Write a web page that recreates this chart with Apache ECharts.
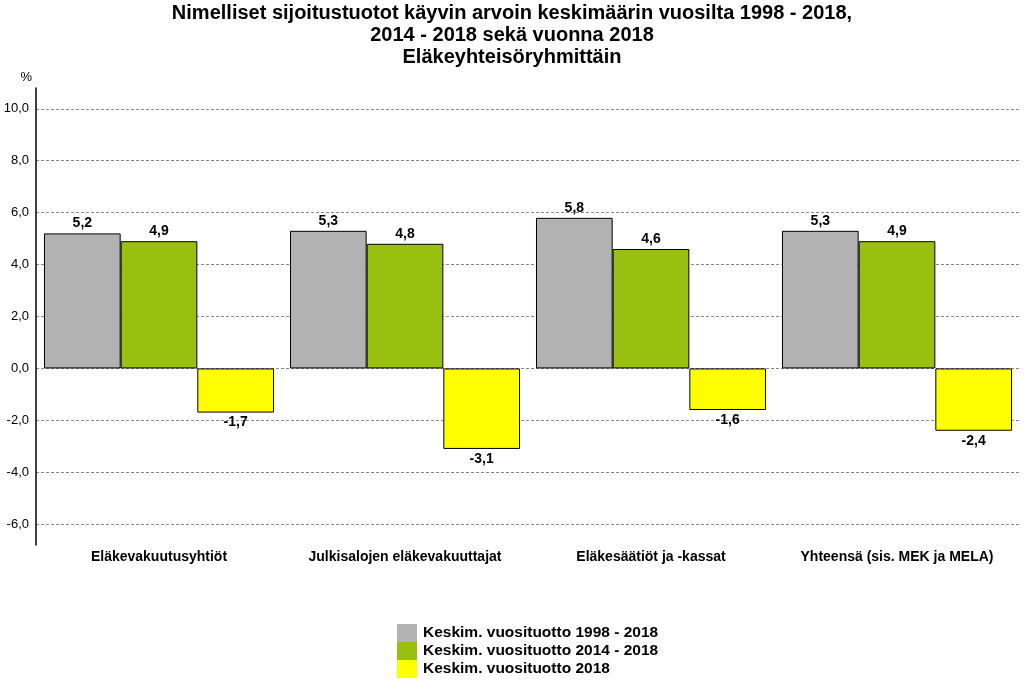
<!DOCTYPE html>
<html><head><meta charset="utf-8">
<script src="https://cdn.jsdelivr.net/npm/echarts@6/dist/echarts.min.js"></script>
<style>html,body{margin:0;padding:0;background:#fff}#c{width:1024px;height:684px}</style>
</head><body><div id="c"></div>
<script>
const categories = ['Eläkevakuutusyhtiöt', 'Julkisalojen eläkevakuuttajat', 'Eläkesäätiöt ja -kassat', 'Yhteensä (sis. MEK ja MELA)'];
const seriesNames = ['Keskim. vuosituotto 1998 - 2018', 'Keskim. vuosituotto 2014 - 2018', 'Keskim. vuosituotto 2018'];
const avg1998_2018 = [5.2, 5.3, 5.8, 5.3];
const avg2014_2018 = [4.9, 4.8, 4.6, 4.9];
const year2018 = [-1.7, -3.1, -1.6, -2.4];
const yTicks = [-6, -4, -2, 0, 2, 4, 6, 8, 10];
const colors = ['#b2b2b2', '#99bf0f', '#ffff00'];
const FONT = 'Arial, "Liberation Sans", sans-serif';

function mkSeries(name, vals, color) {
  return {
    name: name, type: 'bar', barGap: '0%', barCategoryGap: '6.5%',
    itemStyle: { color: color, borderColor: '#000', borderWidth: 1 },
    data: vals.map(v => ({ value: v, label: { position: v < 0 ? 'bottom' : 'top' } })),
    label: { show: true, fontFamily: FONT, fontWeight: 'bold', fontSize: 14, color: '#000', distance: 3,
      formatter: p => p.value.toFixed(1).replace('.', ',') }
  };
}
const chart = echarts.init(document.getElementById('c'), null, { renderer: 'canvas' });
chart.setOption({
  animation: false,
  color: colors,
  title: {
    text: 'Nimelliset sijoitustuotot käyvin arvoin keskimäärin vuosilta 1998 - 2018,\n2014 - 2018 sekä vuonna 2018\nEläkeyhteisöryhmittäin',
    left: 'center', top: 0, padding: [2, 5, 5, 5],
    textStyle: { fontFamily: FONT, fontWeight: 'bold', fontSize: 20, lineHeight: 22, color: '#000' }
  },
  legend: {
    orient: 'vertical', left: 392, top: 619, height: 80, itemWidth: 20, itemHeight: 18, itemGap: 0,
    icon: 'rect', itemStyle: { borderWidth: 0 },
    textStyle: { fontFamily: FONT, fontWeight: 'bold', fontSize: 15.5, lineHeight: 18, color: '#000', padding: [0, 0, 0, 1] },
    data: seriesNames
  },
  grid: { left: 36, right: 4, top: 88, bottom: 139, containLabel: false },
  xAxis: {
    type: 'category', data: categories, position: 'bottom',
    axisLine: { show: false, onZero: false }, axisTick: { show: false },
    axisLabel: { interval: 0, fontFamily: FONT, fontWeight: 'bold', fontSize: 14, color: '#000', margin: 5 }
  },
  yAxis: {
    type: 'value', min: -6.8, max: 10.8, name: '%', nameLocation: 'end',
    nameGap: 4, nameTextStyle: { fontFamily: FONT, fontSize: 13, color: '#000', align: 'right', padding: [0, 4, 0, 0] },
    axisLine: { show: true, lineStyle: { color: '#000', width: 1.5 } },
    axisTick: { show: false, customValues: yTicks },
    axisLabel: { customValues: yTicks, fontFamily: FONT, fontSize: 13, color: '#000', margin: 7,
      formatter: v => v.toFixed(1).replace('.', ',') },
    splitLine: { show: true, lineStyle: { color: '#888', type: [3, 2], width: 1 } }
  },
  series: [
    mkSeries(seriesNames[0], avg1998_2018, colors[0]),
    mkSeries(seriesNames[1], avg2014_2018, colors[1]),
    mkSeries(seriesNames[2], year2018, colors[2])
  ]
});
</script></body></html>
